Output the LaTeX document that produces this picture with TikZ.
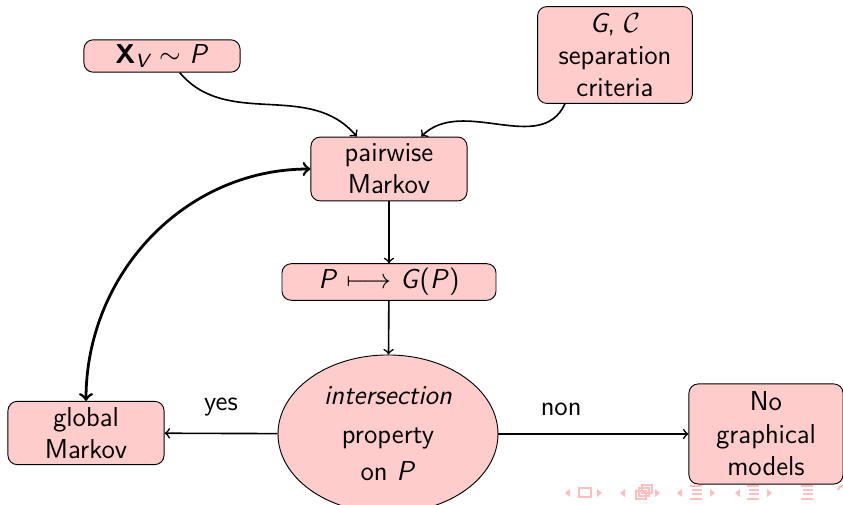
\documentclass[tikz,border=0pt]{standalone}
\usepackage{amsmath,amssymb}
\usepackage{tikz}
\usetikzlibrary{shapes.geometric,positioning}
\renewcommand{\familydefault}{\sfdefault}
% sans italic letters for the formulas
\newcommand{\sv}[1]{\textit{#1}}

\begin{document}
\begin{tikzpicture}[
  x=0.01518cm, y=-0.01518cm,
  font=\fontsize{11.8}{14}\selectfont\sffamily,
  box/.style={draw, rounded corners=4pt, align=center, inner sep=2pt,
              minimum width=2.37cm, fill=red!20},
  ell/.style={ellipse, draw, align=center, inner sep=0pt,
              minimum width=3.34cm, minimum height=2.40cm, fill=red!20},
  arr/.style={->, line width=0.7pt},
  navc/.style={fill=red!25, draw=none}
]
\useasboundingbox (0,0) rectangle (843,505);
\node[box, minimum height=0.49cm] (xv) at (162,56)
  {\textbf{X}$_{\text{\itshape V}}$ $\sim$ \sv{P}};
\node[box, minimum width=2.35cm, minimum height=1.47cm] (sep) at (615,55)
  {\sv{G}, $\mathcal{C}$\\separation\\criteria};
\node[box, minimum height=0.97cm] (pw) at (389,169) {pairwise\\Markov};
\node[box, minimum width=3.25cm, minimum height=0.55cm] (pg) at (389,282)
  {\sv{P} $\longmapsto$ \sv{G}(\sv{P})};
\node[ell] (inter) at (388,434) {\textit{intersection}\\[3pt]property\\[2pt]on \sv{P}};
\node[box, minimum height=0.96cm] (gm) at (86,433) {global\\Markov};
\node[box, minimum width=2.34cm, minimum height=1.52cm] (nogm) at (766,434)
  {No\\graphical\\models};
\draw[arr] ([xshift=0.27cm]xv.south) to[out=-50, in=130] ([xshift=-0.49cm]pw.north);
\draw[arr] ([xshift=-0.76cm]sep.south) to[out=-115, in=45] ([xshift=0.49cm]pw.north);
\draw[arr] (pw) -- (pg);
\draw[arr] (pg) -- (inter);
\draw[arr] (inter) -- node[above=4pt] {yes} (gm);
\draw[arr] (inter) -- node[above=4pt, pos=0.33] {non} (nogm);
\draw[<->, very thick] (gm.north) to[out=90, in=180] (pw.west);
% navigation bar
\foreach \x in {565,620,677,735} \fill[navc] (\x,493) -- ++(5,-4) -- ++(0,8) -- cycle;
\foreach \x in {602,660,715,772} \fill[navc] (\x,493) -- ++(-5,-4) -- ++(0,8) -- cycle;
\draw[red!25, line width=1pt] (579,488) rectangle (591,497);
\draw[red!25, line width=1pt] (636,491) rectangle (646,499);
\draw[red!25, line width=1pt] (639,488) rectangle (649,496);
\draw[red!25, line width=1pt] (642,485) rectangle (652,493);
\foreach \x in {696,753,807} {
  \draw[red!25, line width=1pt] (\x-6,486) -- (\x+6,486);
  \draw[red!25, line width=1pt] (\x-4,490) -- (\x+6,490);
  \draw[red!25, line width=1pt] (\x-4,494) -- (\x+6,494);
  \draw[red!25, line width=1pt] (\x-6,499) -- (\x+6,499);
}
\draw[red!25, line width=1pt] (838,490) arc (180:300:4);
\end{tikzpicture}
\end{document}
